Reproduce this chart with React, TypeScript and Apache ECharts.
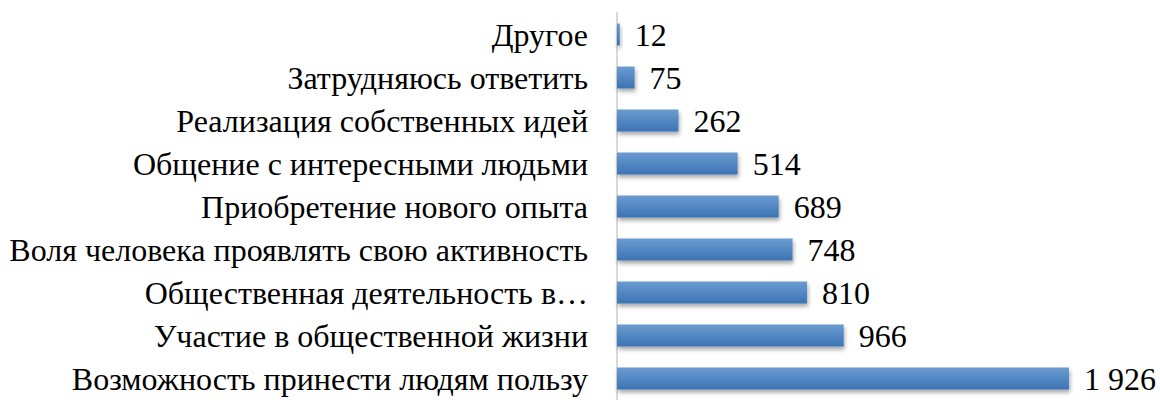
import React, { useEffect, useRef } from "react";
import * as echarts from "echarts";

const categories = [
  "Другое",
  "Затрудняюсь ответить",
  "Реализация собственных идей",
  "Общение с интересными людьми",
  "Приобретение нового опыта",
  "Воля человека проявлять свою активность",
  "Общественная деятельность в…",
  "Участие в общественной жизни",
  "Возможность принести людям пользу",
];
const values = [12, 75, 262, 514, 689, 748, 810, 966, 1926];

const fmt = (v: number) => {
  const s = String(v);
  return s.length > 3 ? s.slice(0, s.length - 3) + " " + s.slice(-3) : s;
};

export default function App() {
  const ref = useRef<HTMLDivElement>(null);
  useEffect(() => {
    if (!ref.current) return;
    const chart = echarts.init(ref.current, null, { renderer: "svg" });
    chart.setOption({
      animation: false,
      backgroundColor: "#ffffff",
      grid: { left: 617, top: 13, width: 469.4, height: 391 },
      xAxis: {
        type: "value",
        min: 0,
        max: 2000,
        show: false,
      },
      yAxis: {
        type: "category",
        inverse: true,
        data: categories,
        axisLine: { show: true, lineStyle: { color: "#d9d9d9", width: 2 } },
        axisTick: { show: false },
        axisLabel: {
          margin: 29,
          color: "#000000",
          fontFamily: "Liberation Serif",
          fontSize: 32,
        },
      },
      series: [
        {
          type: "bar",
          data: values,
          barWidth: "51%",
          itemStyle: {
            color: new echarts.graphic.LinearGradient(0, 0, 0, 1, [
              { offset: 0, color: "#6b9bd0" },
              { offset: 1, color: "#3b74b4" },
            ]),
            shadowColor: "rgba(0,0,0,0.35)",
            shadowBlur: 4,
            shadowOffsetX: 1,
            shadowOffsetY: 3,
          },
          label: {
            show: true,
            position: "right",
            distance: 15,
            color: "#000000",
            fontFamily: "Liberation Serif",
            fontSize: 32,
            formatter: (p: any) => fmt(p.value),
          },
        },
      ],
    });
    return () => chart.dispose();
  }, []);
  return (
    <div
      ref={ref}
      style={{ position: "absolute", left: 0, top: 0, width: 1160, height: 400 }}
    />
  );
}
